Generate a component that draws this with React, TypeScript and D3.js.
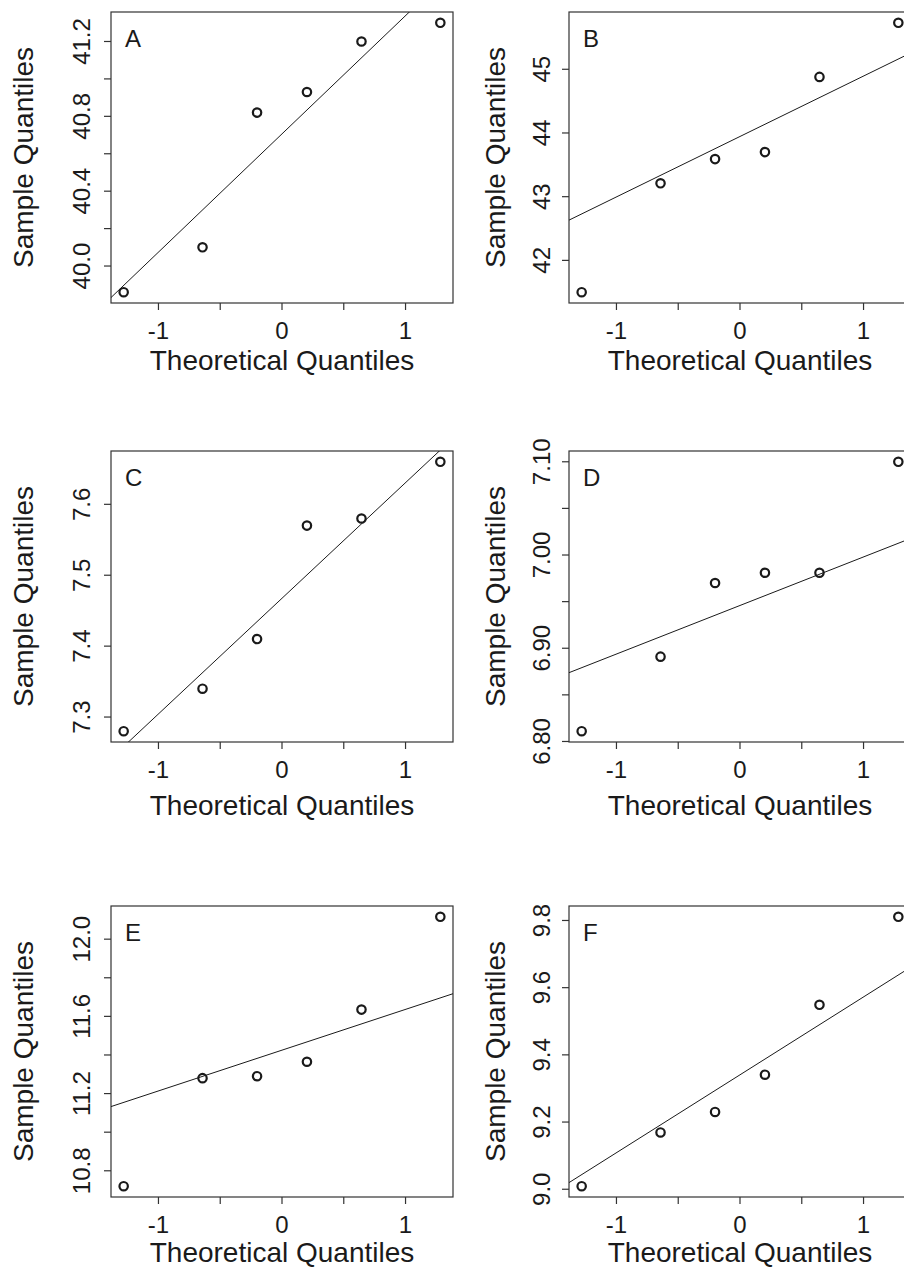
import * as d3 from "d3";

// normal quantiles for n = 6 (R ppoints, a = 3/8)
const theoretical = [-1.2816, -0.6433, -0.2019, 0.2019, 0.6433, 1.2816];
const q75 = 0.6745;

const panelNames = ["A", "B", "C", "D", "E", "F"];

const sampleA = [39.86, 40.1, 40.82, 40.93, 41.2, 41.3];
const sampleB = [41.5, 43.21, 43.59, 43.7, 44.88, 45.73];
const sampleC = [7.28, 7.34, 7.41, 7.57, 7.58, 7.66];
const sampleD = [6.811, 6.891, 6.97, 6.981, 6.981, 7.1];
const sampleE = [10.72, 11.28, 11.29, 11.365, 11.635, 12.116];
const sampleF = [9.009, 9.169, 9.23, 9.341, 9.549, 9.811];

const ticksA = [40.0, 40.2, 40.4, 40.6, 40.8, 41.0, 41.2];
const ticksB = [42, 43, 44, 45];
const ticksC = [7.3, 7.4, 7.5, 7.6];
const ticksD = [6.8, 6.85, 6.9, 6.95, 7.0, 7.05, 7.1];
const ticksE = [10.8, 11.0, 11.2, 11.4, 11.6, 11.8, 12.0];
const ticksF = [9.0, 9.2, 9.4, 9.6, 9.8];

const labelsA = ["40.0", "40.4", "40.8", "41.2"];
const labelsB = ["42", "43", "44", "45"];
const labelsC = ["7.3", "7.4", "7.5", "7.6"];
const labelsD = ["6.80", "6.90", "7.00", "7.10"];
const labelsE = ["10.8", "11.2", "11.6", "12.0"];
const labelsF = ["9.0", "9.2", "9.4", "9.6", "9.8"];

const xTicks = [-1, -0.5, 0, 0.5, 1];
const xLabels = ["-1", "0", "1"];

const samples = [sampleA, sampleB, sampleC, sampleD, sampleE, sampleF];
const yTickSets = [ticksA, ticksB, ticksC, ticksD, ticksE, ticksF];
const yLabelSets = [labelsA, labelsB, labelsC, labelsD, labelsE, labelsF];

const W = 904;
const H = 1268;
const boxW = 342;
const boxH = 291;
const colLeft = [111, 569];
const rowTop = [12, 451, 906];
const yLabelOff = [-21, -19];
const yTitleOff = [-78, -64];
const xTitleOff = [67, 73, 65];
const font = "'Liberation Sans', Arial, sans-serif";
const ink = "#1a1a1a";

function pad(ext: [number, number]): [number, number] {
  const r = ext[1] - ext[0];
  return [ext[0] - 0.04 * r, ext[1] + 0.04 * r];
}

function Panel({ idx }: { idx: number }) {
  const col = idx % 2;
  const row = Math.floor(idx / 2);
  const left = colLeft[col];
  const top = rowTop[row];
  const sample = samples[idx];

  const x = d3
    .scaleLinear()
    .domain(pad(d3.extent(theoretical) as [number, number]))
    .range([0, boxW]);
  const y = d3
    .scaleLinear()
    .domain(pad(d3.extent(sample) as [number, number]))
    .range([boxH, 0]);

  // qqline through the quartiles
  const y1 = d3.quantile(sample, 0.25) as number;
  const y3 = d3.quantile(sample, 0.75) as number;
  const slope = (y3 - y1) / (2 * q75);
  const intercept = (y1 + y3) / 2;
  const [x0, x1] = x.domain();
  const line = d3
    .line<number>()
    .x((d) => x(d))
    .y((d) => y(intercept + slope * d));

  const clipId = `clip-${idx}`;

  return (
    <g transform={`translate(${left},${top})`}>
      <clipPath id={clipId}>
        <rect x={0} y={0} width={boxW} height={boxH} />
      </clipPath>
      <rect x={0} y={0} width={boxW} height={boxH} fill="none" stroke="#333" strokeWidth={1.2} />
      <path d={line([x0, x1]) ?? ""} stroke={ink} strokeWidth={1} fill="none" clipPath={`url(#${clipId})`} />
      {sample.map((v, i) => (
        <circle key={i} cx={x(theoretical[i])} cy={y(v)} r={4.2} fill="none" stroke={ink} strokeWidth={2.2} />
      ))}

      {xTicks.map((t) => (
        <line key={t} x1={x(t)} x2={x(t)} y1={boxH} y2={boxH + 7} stroke="#333" strokeWidth={1.2} />
      ))}
      {xLabels.map((l) => (
        <text key={l} x={x(+l)} y={boxH + 36} textAnchor="middle" fontSize={24} fontFamily={font} fill={ink}>
          {l}
        </text>
      ))}
      <text x={boxW / 2} y={boxH + xTitleOff[row]} textAnchor="middle" fontSize={28} fontFamily={font} fill={ink}>
        Theoretical Quantiles
      </text>

      {yTickSets[idx].map((t) => (
        <line key={t} x1={-7} x2={0} y1={y(t)} y2={y(t)} stroke="#333" strokeWidth={1.2} />
      ))}
      {yLabelSets[idx].map((l) => (
        <text
          key={l}
          transform={`translate(${yLabelOff[col]},${y(+l)}) rotate(-90)`}
          textAnchor="middle"
          fontSize={24}
          fontFamily={font}
          fill={ink}
        >
          {l}
        </text>
      ))}
      <text
        transform={`translate(${yTitleOff[col]},${boxH / 2}) rotate(-90)`}
        textAnchor="middle"
        fontSize={28}
        fontFamily={font}
        fill={ink}
      >
        Sample Quantiles
      </text>

      <text x={14} y={35} fontSize={24} fontFamily={font} fill={ink}>
        {panelNames[idx]}
      </text>
    </g>
  );
}

export default function App() {
  return (
    <svg
      width={W}
      height={H}
      style={{ position: "absolute", left: 0, top: 0, background: "#fff" }}
    >
      <rect width={W} height={H} fill="#fff" />
      {panelNames.map((_, i) => (
        <Panel key={i} idx={i} />
      ))}
    </svg>
  );
}
